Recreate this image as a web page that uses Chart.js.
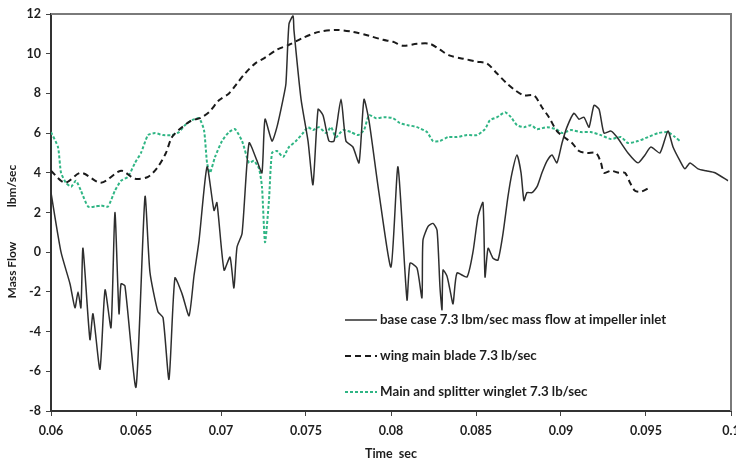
<!DOCTYPE html>
<html><head><meta charset="utf-8">
<script src="https://cdn.jsdelivr.net/npm/chart.js@4/dist/chart.umd.min.js"></script>
<style>html,body{margin:0;padding:0;background:#fff;} canvas{display:block;}</style>
</head><body>
<canvas id="c" width="736" height="465"></canvas>
<script>
const xTitle = 'Time  sec';
const yTitleParts = ['Mass Flow', 'lbm/sec'];
const seriesNames = ['base case 7.3 lbm/sec mass flow at impeller inlet', 'wing main blade 7.3 lb/sec', 'Main and splitter winglet 7.3 lb/sec'];

const baseTime = [0.06, 0.06059, 0.06112, 0.06141, 0.06159, 0.06176, 0.06188, 0.06229, 0.06247, 0.06288,
  0.06318, 0.06353, 0.06376, 0.064, 0.06412, 0.06435, 0.065, 0.06553, 0.06582, 0.06629,
  0.06659, 0.06694, 0.06729, 0.06771, 0.06812, 0.06841, 0.06871, 0.06918, 0.06959, 0.06976,
  0.07018, 0.07053, 0.07076, 0.07094, 0.07124, 0.07165, 0.07212, 0.07241, 0.07259, 0.073,
  0.07329, 0.07365, 0.07382, 0.074, 0.07424, 0.07429, 0.07471, 0.07512, 0.07541, 0.07571,
  0.076, 0.07635, 0.07665, 0.07706, 0.07735, 0.07776, 0.07812, 0.07841, 0.07871, 0.07929,
  0.08, 0.08041, 0.08094, 0.08112, 0.08153, 0.08182, 0.08188, 0.08218, 0.08247, 0.08271,
  0.08288, 0.083, 0.08306, 0.08329, 0.08347, 0.08365, 0.08388, 0.08447, 0.08482, 0.08512,
  0.08541, 0.08553, 0.08571, 0.086, 0.08629, 0.08659, 0.08688, 0.08712, 0.08741, 0.08765,
  0.08782, 0.088, 0.08829, 0.08859, 0.08888, 0.08918, 0.08947, 0.08976, 0.09006, 0.09035,
  0.09076, 0.09106, 0.09135, 0.09165, 0.09194, 0.09224, 0.09253, 0.09294, 0.09329, 0.09394,
  0.09453, 0.09494, 0.09529, 0.09582, 0.09629, 0.09659, 0.097, 0.09729, 0.09759, 0.09806,
  0.09853, 0.09906, 0.09982];
const baseFlow = [3.0, 0.0, -1.6, -2.8, -2.0, -2.8, 0.2, -4.4, -3.1, -5.9,
  -1.9, -3.8, 2.0, -3.1, -1.6, -1.7, -6.8, 2.8, -1.0, -3.0,
  -3.3, -6.4, -1.3, -2.1, -3.2, -1.2, 0.6, 4.3, 2.1, 2.5,
  -0.9, -0.25, -1.8, 0.25, 0.95, 5.5, 4.6, 4.0, 6.7, 5.6,
  6.3, 7.7, 8.5, 11.5, 11.9, 11.2, 7.7, 5.6, 3.4, 7.2,
  6.9, 5.6, 5.6, 7.7, 5.6, 5.3, 4.5, 7.7, 6.6, 3.0,
  -0.75, 4.3, -2.4, -0.55, -0.8, -2.3, 0.6, 1.3, 1.45, 1.1,
  -1.75, -2.9, -0.9, -1.2, -1.9, -2.6, -1.05, -1.25, 0.0, 1.8,
  2.5, -1.25, 0.2, -0.3, -0.4, 0.95, 2.8, 4.0, 4.9, 4.0,
  2.6, 3.0, 3.0, 3.3, 4.0, 4.6, 4.9, 4.5, 5.5, 6.3,
  7.0, 6.7, 6.8, 6.3, 7.4, 7.2, 6.0, 6.1, 5.8, 5.0,
  4.5, 4.9, 5.3, 5.0, 6.1, 5.3, 4.6, 4.2, 4.5, 4.2,
  4.1, 4.0, 3.6];

const wingTime = [0.06, 0.06082, 0.06176, 0.06294, 0.06412, 0.06494, 0.06571, 0.06629, 0.06676, 0.06712,
  0.06771, 0.06829, 0.06876, 0.06929, 0.06988, 0.07047, 0.07094, 0.07141, 0.072, 0.07259,
  0.07329, 0.074, 0.07482, 0.07576, 0.07676, 0.07776, 0.07871, 0.07953, 0.08012, 0.08071,
  0.08153, 0.08229, 0.08288, 0.08347, 0.08424, 0.08506, 0.08565, 0.08624, 0.08682, 0.08724,
  0.08782, 0.08841, 0.08888, 0.08929, 0.08976, 0.09018, 0.09065, 0.09106, 0.09153, 0.09206,
  0.09235, 0.09253, 0.09294, 0.09341, 0.09376, 0.09406, 0.09435, 0.09471, 0.09529];
const wingFlow = [4.1, 3.5, 4.0, 3.5, 4.1, 3.7, 3.8, 4.3, 5.0, 5.8,
  6.3, 6.65, 6.75, 7.05, 7.65, 8.0, 8.5, 9.0, 9.5, 9.8,
  10.2, 10.45, 10.8, 11.1, 11.2, 11.1, 10.9, 10.7, 10.6, 10.4,
  10.5, 10.5, 10.2, 9.9, 9.75, 9.6, 9.5, 9.0, 8.5, 8.2,
  7.9, 7.9, 7.3, 6.8, 6.1, 5.8, 5.5, 5.1, 5.0, 5.0,
  4.5, 4.0, 4.1, 4.0, 4.0, 3.5, 3.1, 3.05, 3.3];

const wingletTime = [0.06, 0.06041, 0.06059, 0.06088, 0.06118, 0.06147, 0.06176, 0.06218, 0.06259, 0.06294,
  0.06335, 0.06376, 0.06412, 0.06453, 0.06494, 0.06529, 0.06571, 0.06612, 0.06659, 0.06712,
  0.06753, 0.06788, 0.06829, 0.06871, 0.069, 0.06918, 0.06935, 0.06965, 0.07006, 0.07047,
  0.07082, 0.07124, 0.07165, 0.07194, 0.07224, 0.07241, 0.07259, 0.07282, 0.073, 0.07329,
  0.07365, 0.074, 0.07441, 0.07482, 0.07512, 0.07541, 0.07576, 0.07618, 0.07647, 0.07676,
  0.07718, 0.07765, 0.07806, 0.07841, 0.07871, 0.07912, 0.07959, 0.08012, 0.08053, 0.081,
  0.08153, 0.08212, 0.08247, 0.08288, 0.08335, 0.08388, 0.08447, 0.08506, 0.08553, 0.08582,
  0.08624, 0.08671, 0.08706, 0.08741, 0.08782, 0.08824, 0.08859, 0.08918, 0.08971, 0.09006,
  0.09059, 0.09118, 0.09176, 0.09235, 0.09294, 0.09353, 0.09394, 0.09453, 0.09512, 0.09571,
  0.09629, 0.09671, 0.097];
const wingletFlow = [6.05, 5.3, 4.0, 3.5, 3.3, 3.6, 3.1, 2.3, 2.3, 2.35,
  2.3, 3.1, 3.6, 3.8, 4.5, 5.0, 5.9, 6.0, 5.9, 5.9,
  6.05, 6.4, 6.65, 6.75, 6.15, 4.5, 4.0, 4.8, 5.6, 6.05,
  6.2, 5.6, 4.5, 4.6, 4.2, 3.3, 0.5, 2.6, 5.0, 5.1,
  4.8, 5.3, 5.6, 6.0, 6.3, 6.15, 6.3, 6.0, 6.3, 5.8,
  6.15, 6.05, 5.9, 6.15, 6.9, 6.75, 6.8, 6.75, 6.5, 6.4,
  6.3, 6.05, 5.6, 5.6, 5.8, 5.8, 5.9, 5.9, 6.2, 6.65,
  6.8, 7.05, 6.8, 6.4, 6.3, 6.4, 6.2, 6.3, 6.2, 6.0,
  6.15, 6.05, 6.05, 5.9, 5.7, 5.8, 5.5, 5.6, 5.8, 6.0,
  6.05, 5.8, 5.6];

const xMin = 0.06, xMax = 0.1, xStep = 0.005;
const yMin = -8, yMax = 12, yStep = 2;

function pts(t, v) { return t.map((x, i) => ({x: x, y: v[i]})); }

const FONT = 'Lato, "Open Sans", "DejaVu Sans", sans-serif';
const TXT = '#1e1e1e';

const boxPlugin = {
  id: 'box',
  afterDraw(chart) {
    const {ctx, chartArea: a} = chart;
    ctx.save();
    ctx.strokeStyle = '#7a7a7a';
    ctx.lineWidth = 2;
    ctx.beginPath();
    ctx.moveTo(a.left, a.top);
    ctx.lineTo(a.right, a.top);
    ctx.lineTo(a.right, a.bottom);
    ctx.stroke();
    ctx.restore();
  }
};

const yTitlePlugin = {
  id: 'ytitle',
  afterDraw(chart) {
    const {ctx, chartArea: a} = chart;
    ctx.save();
    ctx.fillStyle = TXT;
    ctx.font = 'bold 12px ' + FONT;
    ctx.textAlign = 'center';
    ctx.textBaseline = 'middle';
    ctx.translate(12, 0);
    ctx.rotate(-Math.PI / 2);
    ctx.fillText(yTitleParts[0], -(a.top + 256), 0);
    ctx.fillText(yTitleParts[1], -(a.top + 172), 0);
    ctx.restore();
  }
};

const legendPlugin = {
  id: 'inlegend',
  afterDraw(chart) {
    const {ctx, chartArea: a} = chart;
    ctx.save();
    const x0 = a.left + 294, x1 = a.left + 326, tx = a.left + 329;
    const ys = [a.top + 306, a.top + 342, a.top + 378];
    chart.data.datasets.forEach((ds, i) => {
      ctx.strokeStyle = ds.borderColor;
      ctx.lineWidth = ds.borderWidth;
      ctx.setLineDash(ds.borderDash || []);
      ctx.beginPath();
      ctx.moveTo(x0, ys[i]);
      ctx.lineTo(x1, ys[i]);
      ctx.stroke();
      ctx.setLineDash([]);
      ctx.fillStyle = TXT;
      ctx.font = 'bold 13.3px ' + FONT;
      ctx.textBaseline = 'middle';
      ctx.textAlign = 'left';
      ctx.fillText(ds.label, tx, ys[i]);
    });
    ctx.restore();
  }
};

new Chart(document.getElementById('c'), {
  type: 'line',
  data: {
    datasets: [
      {label: seriesNames[0], data: pts(baseTime, baseFlow), borderColor: '#2e2e2e', borderWidth: 1.5, tension: 0.2, pointRadius: 0, fill: false},
      {label: seriesNames[1], data: pts(wingTime, wingFlow), borderColor: '#1a1a1a', borderWidth: 2, borderDash: [6, 4], tension: 0.3, pointRadius: 0, fill: false},
      {label: seriesNames[2], data: pts(wingletTime, wingletFlow), borderColor: '#2fb584', borderWidth: 2, borderDash: [3, 2], tension: 0.2, pointRadius: 0, fill: false}
    ]
  },
  options: {
    responsive: false,
    animation: false,
    devicePixelRatio: 1,
    layout: {padding: {top: 14, right: 5, left: 0, bottom: 0}},
    plugins: {legend: {display: false}, tooltip: {enabled: false}},
    scales: {
      x: {
        type: 'linear', min: xMin, max: xMax,
        ticks: {stepSize: xStep, autoSkip: false, maxRotation: 0, padding: 7, color: TXT,
          font: {family: FONT, size: 12.5, weight: 'bold'},
          callback: v => parseFloat(Number(v).toFixed(3)).toString()},
        grid: {drawOnChartArea: false, drawTicks: true, tickLength: 5, color: '#444'},
        border: {color: '#333', width: 2},
        title: {display: true, text: xTitle, color: TXT, font: {family: FONT, size: 12.5, weight: 'bold'}, padding: {top: 0, bottom: 4}},
        afterFit: s => { s.height = 54; s.paddingLeft = 0; s.paddingRight = 0; }
      },
      y: {
        min: yMin, max: yMax,
        ticks: {stepSize: yStep, padding: 5, color: TXT, font: {family: FONT, size: 12.5, weight: 'bold'}},
        grid: {drawOnChartArea: false, drawTicks: true, tickLength: 5, color: '#444'},
        border: {color: '#333', width: 2},
        title: {display: false},
        afterFit: s => { s.width = 51; s.paddingTop = 0; s.paddingBottom = 0; }
      }
    }
  },
  plugins: [boxPlugin, yTitlePlugin, legendPlugin]
});
</script></body></html>
